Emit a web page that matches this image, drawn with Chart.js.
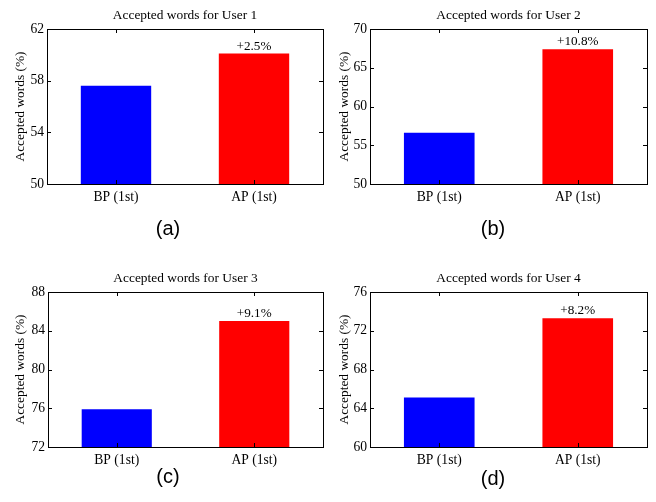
<!DOCTYPE html>
<html>
<head>
<meta charset="utf-8">
<script src="https://cdn.jsdelivr.net/npm/chart.js@4"></script>
<style>
  html, body { margin: 0; padding: 0; background: #fff; }
  body { width: 656px; height: 502px; position: relative; overflow: hidden; }
  canvas { position: absolute; }
</style>
</head>
<body>
<canvas id="c0"></canvas>
<canvas id="c1"></canvas>
<canvas id="c2"></canvas>
<canvas id="c3"></canvas>
<script>
// ---- Data ----
const categories = ['BP (1st)', 'AP (1st)'];
const user1 = [57.6, 60.1];
const user2 = [56.6, 67.4];
const user3 = [75.9, 85.0];
const user4 = [65.1, 73.3];
const seriesValues = [user1, user2, user3, user4];
const chartTitles = ['Accepted words for User 1', 'Accepted words for User 2', 'Accepted words for User 3', 'Accepted words for User 4'];
const gainLabels = ['+2.5%', '+10.8%', '+9.1%', '+8.2%'];
const panelLabels = ['(a)', '(b)', '(c)', '(d)'];
const yAxisTitle = 'Accepted words (%)';
const yMin = [50, 50, 72, 60];
const yMax = [62, 70, 88, 76];
const yStep = [4, 5, 4, 4];
const barColors = ['#0000ff', '#ff0000'];

// ---- Layout (positions / sizes) ----
const panels = [
  { x: 0,   y: 0,   w: 328, h: 250, area: { l: 47, t: 29, r: 323, b: 184 }, lab: { x: 168, y: 229 }, ytp: 12 },
  { x: 326, y: 0,   w: 330, h: 250, area: { l: 44, t: 29, r: 321, b: 184 }, lab: { x: 167, y: 229 }, ytp: 10 },
  { x: 0,   y: 250, w: 328, h: 252, area: { l: 48, t: 42, r: 323, b: 197 }, lab: { x: 168, y: 227 }, ytp: 12 },
  { x: 326, y: 250, w: 330, h: 252, area: { l: 44, t: 42, r: 321, b: 197 }, lab: { x: 167, y: 229 }, ytp: 10 }
];

const SERIF = '"Liberation Serif", "Times New Roman", serif';
Chart.defaults.font.family = SERIF;
Chart.defaults.color = '#000';

const boxPlugin = {
  id: 'matlabBox',
  afterDraw(chart, args, opts) {
    const ctx = chart.ctx;
    const { left, top, right, bottom } = chart.chartArea;
    const ys = chart.scales.y, xs = chart.scales.x;
    ctx.save();
    ctx.strokeStyle = '#000';
    ctx.lineWidth = 1;
    ctx.strokeRect(Math.round(left) + 0.5, Math.round(top) + 0.5, Math.round(right - left), Math.round(bottom - top));
    ctx.beginPath();
    const tl = 4;
    ys.ticks.forEach(t => {
      const y = Math.round(ys.getPixelForValue(t.value)) + 0.5;
      ctx.moveTo(left, y); ctx.lineTo(left + tl, y);
      ctx.moveTo(right, y); ctx.lineTo(right - tl, y);
    });
    categories.forEach((c, i) => {
      const x = Math.round(xs.getPixelForValue(i)) + 0.5;
      ctx.moveTo(x, top); ctx.lineTo(x, top + tl);
      ctx.moveTo(x, bottom); ctx.lineTo(x, bottom - tl);
    });
    ctx.stroke();
    // title
    ctx.fillStyle = '#000';
    ctx.textAlign = 'center';
    ctx.textBaseline = 'middle';
    ctx.font = '13.4px ' + SERIF;
    ctx.fillText(opts.title, (left + right) / 2, top - 14);
    // gain annotation above the second bar
    const meta = chart.getDatasetMeta(0);
    const bar = meta.data[1];
    ctx.textBaseline = 'alphabetic';
    ctx.font = '13.2px ' + SERIF;
    ctx.fillText(opts.gain, bar.x, bar.y - 4);
    // panel label
    ctx.textBaseline = 'middle';
    ctx.font = '20px "Liberation Sans", Arial, sans-serif';
    ctx.fillText(opts.panel, opts.labX, opts.labY);
    ctx.restore();
  }
};

panels.forEach((p, i) => {
  const cv = document.getElementById('c' + i);
  cv.width = p.w; cv.height = p.h;
  cv.style.left = p.x + 'px'; cv.style.top = p.y + 'px';
  cv.style.width = p.w + 'px'; cv.style.height = p.h + 'px';
  new Chart(cv, {
    type: 'bar',
    data: {
      labels: categories,
      datasets: [{
        data: seriesValues[i],
        backgroundColor: barColors,
        borderWidth: 0,
        barPercentage: 0.51,
        categoryPercentage: 1.0
      }]
    },
    options: {
      responsive: false,
      animation: false,
      devicePixelRatio: 1,
      layout: { padding: { top: p.area.t, right: p.w - p.area.r, bottom: 0, left: 0 } },
      plugins: {
        legend: { display: false },
        tooltip: { enabled: false },
        matlabBox: { title: chartTitles[i], gain: gainLabels[i], panel: panelLabels[i], labX: p.lab.x, labY: p.lab.y }
      },
      scales: {
        x: {
          grid: { display: false, drawTicks: false },
          border: { display: false },
          ticks: { font: { size: 13.6 }, padding: 5, maxRotation: 0, color: '#000' },
          afterFit(scale) { scale.height = p.h - p.area.b; }
        },
        y: {
          min: yMin[i], max: yMax[i],
          grid: { display: false, drawTicks: false },
          border: { display: false },
          ticks: { stepSize: yStep[i], font: { size: 13.6 }, padding: 3, color: '#000' },
          title: { display: true, text: yAxisTitle, font: { size: 13.4 }, padding: { top: p.ytp, bottom: 0 }, color: '#000' },
          afterFit(scale) { scale.width = p.area.l; }
        }
      }
    },
    plugins: [boxPlugin]
  });
});
</script>
</body>
</html>
